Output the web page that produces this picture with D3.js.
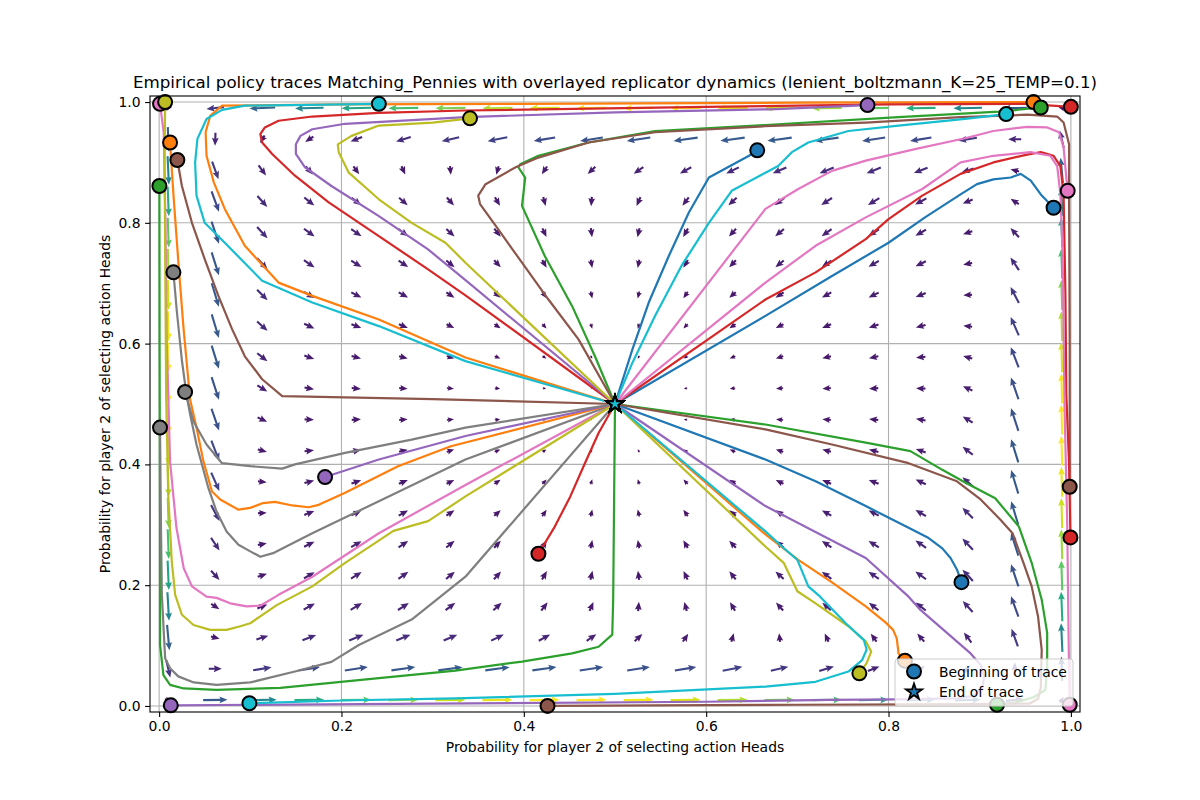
<!DOCTYPE html>
<html>
<head>
<meta charset="utf-8">
<title>Empirical policy traces</title>
<script src="https://d3js.org/d3.v7.min.js"></script>
<style>
  body { margin: 0; background: #fff; }
  text { font-family: "DejaVu Sans", sans-serif; }
</style>
</head>
<body>
<div id="chart"></div>
<script type="text/javascript">

// axis limits and ticks
const axisLimits = [-0.01, 1.01];
const tickValues = [0.0, 0.2, 0.4, 0.6, 0.8, 1.0];

// game / dynamics parameters (from the title)
const leniency = 25;
const temperature = 0.1;
// grid on which the dynamics arrows are drawn
const fieldGrid = [0.01, 0.0616, 0.1132, 0.1647, 0.2163, 0.2679, 0.3195, 0.3711, 0.4226, 0.4742,
                   0.5258, 0.5774, 0.6289, 0.6805, 0.7321, 0.7837, 0.8353, 0.8868, 0.9384, 0.99];

// empirical traces, [x, y] points, start -> end
const blue1 = [[0.656,0.920],[0.647,0.911],[0.603,0.875],[0.581,0.817],[0.559,0.745],[0.537,0.668],[0.519,0.590],[0.5,0.5]];
const orange1 = [[0.959,1.0],[0.7,0.999],[0.4,0.997],[0.2,0.996],[0.069,0.994],[0.056,0.977],[0.051,0.950],[0.052,0.911],[0.060,0.867],[0.072,0.823],[0.094,0.762],[0.131,0.701],[0.168,0.679],[0.241,0.640],[0.336,0.577],[0.5,0.5]];
const green1 = [[0.967,0.991],[0.921,0.984],[0.811,0.975],[0.665,0.962],[0.544,0.952],[0.471,0.933],[0.416,0.911],[0.396,0.897],[0.394,0.892],[0.4015,0.875],[0.398,0.828],[0.423,0.745],[0.453,0.662],[0.478,0.579],[0.5,0.5]];
const red1 = [[1.0,0.992],[0.95,0.997],[0.8,0.996],[0.6,0.992],[0.336,0.986],[0.241,0.982],[0.168,0.976],[0.131,0.969],[0.116,0.958],[0.111,0.947],[0.113,0.933],[0.124,0.914],[0.149,0.878],[0.186,0.834],[0.241,0.778],[0.295,0.723],[0.336,0.680],[0.5,0.5]];
const purple1 = [[0.777,0.995],[0.67,0.988],[0.5,0.983],[0.336,0.975],[0.204,0.964],[0.168,0.955],[0.155,0.944],[0.150,0.930],[0.150,0.914],[0.160,0.892],[0.189,0.861],[0.241,0.811],[0.295,0.756],[0.336,0.705],[0.5,0.5]];
const brown1 = [[0.020,0.904],[0.025,0.861],[0.036,0.800],[0.050,0.740],[0.065,0.679],[0.080,0.624],[0.094,0.579],[0.113,0.541],[0.135,0.513],[0.3,0.508],[0.5,0.5]];
const pink1 = [[0.001,0.997],[0.005,0.95],[0.007,0.8],[0.0084,0.6],[0.010,0.516],[0.012,0.405],[0.019,0.295],[0.027,0.228],[0.036,0.198],[0.052,0.181],[0.063,0.179],[0.078,0.170],[0.096,0.165],[0.111,0.166],[0.131,0.184],[0.168,0.214],[0.241,0.286],[0.336,0.366],[0.5,0.5]];
const gray1 = [[0.0157,0.718],[0.0194,0.654],[0.025,0.572],[0.030,0.516],[0.034,0.483],[0.041,0.433],[0.054,0.361],[0.063,0.322],[0.074,0.289],[0.087,0.267],[0.100,0.256],[0.111,0.247],[0.125,0.253],[0.133,0.259],[0.168,0.286],[0.241,0.339],[0.336,0.408],[0.5,0.5]];
const olive1 = [[0.0066,1.0],[0.006,0.9],[0.0077,0.516],[0.010,0.350],[0.0139,0.239],[0.0176,0.184],[0.025,0.151],[0.0377,0.134],[0.056,0.126],[0.074,0.126],[0.089,0.132],[0.100,0.137],[0.129,0.167],[0.168,0.198],[0.204,0.237],[0.257,0.290],[0.295,0.306],[0.336,0.347],[0.5,0.5]];
const cyan1 = [[0.241,0.997],[0.094,0.994],[0.069,0.987],[0.052,0.972],[0.042,0.939],[0.0395,0.900],[0.041,0.845],[0.050,0.800],[0.072,0.767],[0.113,0.704],[0.168,0.668],[0.241,0.629],[0.336,0.571],[0.5,0.5]];

const blue2 = [[0.981,0.825],[0.967,0.847],[0.956,0.870],[0.945,0.881],[0.934,0.875],[0.915,0.872],[0.897,0.864],[0.879,0.847],[0.840,0.809],[0.800,0.767],[0.738,0.712],[0.665,0.646],[0.5,0.5]];
const orange2 = [[0.012,0.933],[0.0157,0.847],[0.021,0.737],[0.0267,0.627],[0.034,0.507],[0.041,0.461],[0.0486,0.405],[0.058,0.355],[0.067,0.342],[0.087,0.325],[0.100,0.328],[0.114,0.336],[0.127,0.338],[0.146,0.332],[0.164,0.329],[0.175,0.333],[0.204,0.353],[0.262,0.397],[0.320,0.430],[0.5,0.5]];
const green2 = [[0.0003,0.861],[0.0005,0.6],[0.001,0.3],[0.001,0.101],[0.0047,0.051],[0.012,0.035],[0.027,0.029],[0.063,0.0265],[0.133,0.030],[0.241,0.046],[0.325,0.0586],[0.398,0.0735],[0.453,0.087],[0.482,0.098],[0.497,0.118],[0.498,0.176],[0.5,0.5]];
const red2 = [[0.416,0.252],[0.434,0.297],[0.451,0.347],[0.467,0.402],[0.482,0.452],[0.5,0.5]];
const purple2 = [[0.182,0.379],[0.241,0.408],[0.336,0.447],[0.5,0.5]];
const brown2 = [[0.9987,0.363],[0.9987,0.6],[0.998,0.85],[0.998,0.930],[0.992,0.966],[0.985,0.976],[0.952,0.979],[0.879,0.975],[0.775,0.966],[0.665,0.960],[0.544,0.950],[0.471,0.933],[0.416,0.908],[0.391,0.892],[0.358,0.864],[0.350,0.845],[0.352,0.831],[0.372,0.789],[0.398,0.734],[0.427,0.673],[0.460,0.607],[0.5,0.5]];
const pink2 = [[0.9965,0.853],[0.995,0.875],[0.992,0.925],[0.987,0.950],[0.974,0.958],[0.952,0.959],[0.915,0.952],[0.884,0.940],[0.829,0.922],[0.775,0.903],[0.738,0.886],[0.701,0.856],[0.665,0.823],[0.5,0.5]];
const gray2 = [[0.0285,0.520],[0.0377,0.471],[0.052,0.433],[0.069,0.402],[0.100,0.397],[0.135,0.393],[0.149,0.400],[0.204,0.419],[0.277,0.441],[0.336,0.461],[0.5,0.5]];
const olive2 = [[0.341,0.973],[0.3,0.966],[0.241,0.961],[0.211,0.944],[0.196,0.930],[0.197,0.917],[0.208,0.883],[0.241,0.839],[0.277,0.800],[0.314,0.767],[0.336,0.734],[0.5,0.5]];
const cyan2 = [[0.929,0.980],[0.884,0.972],[0.811,0.961],[0.756,0.952],[0.712,0.933],[0.694,0.917],[0.679,0.894],[0.665,0.883],[0.628,0.853],[0.603,0.800],[0.573,0.729],[0.544,0.646],[0.519,0.568],[0.5,0.5]];

const blue3 = [[0.880,0.205],[0.875,0.226],[0.868,0.245],[0.859,0.261],[0.844,0.278],[0.822,0.295],[0.775,0.331],[0.720,0.372],[0.665,0.408],[0.5,0.5]];
const orange3 = [[0.818,0.075],[0.811,0.087],[0.809,0.112],[0.805,0.126],[0.797,0.138],[0.775,0.165],[0.738,0.2045],[0.701,0.242],[0.665,0.284],[0.5,0.5]];
const green3 = [[0.919,0.002],[0.940,0.006],[0.959,0.0144],[0.972,0.0265],[0.974,0.065],[0.974,0.121],[0.968,0.176],[0.957,0.237],[0.943,0.297],[0.917,0.344],[0.884,0.370],[0.859,0.391],[0.824,0.422],[0.775,0.436],[0.665,0.466],[0.5,0.5]];
const red3 = [[0.9995,0.279],[0.998,0.4],[0.995,0.516],[0.994,0.682],[0.992,0.847],[0.9885,0.894],[0.981,0.911],[0.967,0.917],[0.952,0.913],[0.915,0.900],[0.879,0.881],[0.837,0.845],[0.800,0.806],[0.775,0.773],[0.720,0.718],[0.665,0.673],[0.5,0.5]];
const purple3 = [[0.0128,0.001],[0.3,0.004],[0.6,0.007],[0.736,0.010],[0.809,0.011],[0.875,0.0127],[0.893,0.0166],[0.9026,0.029],[0.905,0.0486],[0.901,0.068],[0.890,0.087],[0.835,0.159],[0.822,0.181],[0.775,0.245],[0.665,0.331],[0.5,0.5]];
const brown3 = [[0.426,0.0],[0.7,0.002],[0.9,0.003],[0.955,0.004],[0.964,0.012],[0.967,0.03],[0.968,0.093],[0.964,0.148],[0.957,0.198],[0.948,0.237],[0.936,0.286],[0.923,0.308],[0.901,0.342],[0.875,0.372],[0.822,0.402],[0.738,0.433],[0.665,0.458],[0.5,0.5]];
const pink3 = [[0.9987,0.002],[0.9976,0.1],[0.996,0.3],[0.993,0.5],[0.991,0.75],[0.9885,0.847],[0.985,0.894],[0.9775,0.911],[0.9556,0.917],[0.915,0.911],[0.879,0.900],[0.837,0.856],[0.775,0.809],[0.720,0.762],[0.665,0.701],[0.5,0.5]];
const gray3 = [[0.001,0.461],[0.002,0.3],[0.003,0.184],[0.0066,0.079],[0.012,0.0625],[0.021,0.049],[0.038,0.039],[0.063,0.035],[0.100,0.039],[0.149,0.057],[0.189,0.073],[0.219,0.101],[0.277,0.143],[0.336,0.214],[0.5,0.5]];
const olive3 = [[0.768,0.054],[0.776,0.071],[0.781,0.090],[0.775,0.107],[0.756,0.132],[0.720,0.170],[0.700,0.190],[0.685,0.237],[0.665,0.264],[0.5,0.5]];
const cyan3 = [[0.099,0.0045],[0.2,0.009],[0.325,0.0127],[0.500,0.020],[0.665,0.032],[0.720,0.040],[0.756,0.057],[0.771,0.076],[0.776,0.093],[0.773,0.109],[0.753,0.137],[0.725,0.181],[0.712,0.198],[0.700,0.242],[0.683,0.264],[0.665,0.289],[0.5,0.5]];

// plotting order (colours follow the tab10 cycle)
const traces = [blue1, orange1, green1, red1, purple1, brown1, pink1, gray1, olive1, cyan1,
                blue2, orange2, green2, red2, purple2, brown2, pink2, gray2, olive2, cyan2,
                blue3, orange3, green3, red3, purple3, brown3, pink3, gray3, olive3, cyan3];
const palette = d3.schemeCategory10;

const titleText = "Empirical policy traces Matching_Pennies with overlayed replicator dynamics (lenient_boltzmann_K=25_TEMP=0.1)";
const xLabel = "Probability for player 2 of selecting action Heads";
const yLabel = "Probability for player 2 of selecting action Heads";
const legendLabels = ["Beginning of trace", "End of trace"];

// lenient boltzmann dynamics for matching pennies (payoffs +1 / -1)
function dynamics(x, y) {
    let gapX = 2 * (Math.pow(1 - y, leniency) - Math.pow(y, leniency));
    let gapY = 2 * (Math.pow(x, leniency) - Math.pow(1 - x, leniency));
    let u = x * (1 - x) * (gapX / temperature + Math.log2((1 - x) / x));
    let v = y * (1 - y) * (gapY / temperature + Math.log2((1 - y) / y));
    return [u, v];
}

// arrow glyph pointing along +x, centred on the origin
function arrowPath(L) {
    let sw = 1.05, hw = 3.4, hl = 8, ha = 7;
    let s = 1, len = L;
    if (L < hl + 1) { s = L / (hl + 1); len = hl + 1; }
    let t = len / 2, b = -len / 2;
    let pts = [[b,-sw],[t-ha,-sw],[t-hl,-hw],[t,0],[t-hl,hw],[t-ha,sw],[b,sw]];
    return "M" + pts.map(p => (p[0]*s).toFixed(2) + "," + (p[1]*s).toFixed(2)).join("L") + "Z";
}

function render() {
    let margin = {top: 96, right: 120, bottom: 88, left: 150};
    let w = 1200 - margin.left - margin.right;
    let h = 800 - margin.top - margin.bottom;

    let svg = d3.select("#chart")
        .append("svg")
            .attr("width", 1200)
            .attr("height", 800)
            .style("background", "#fff");

    let g = svg.append("g")
        .attr("transform", "translate(" + margin.left + "," + margin.top + ")");

    let xScale = d3.scaleLinear().domain(axisLimits).range([0, w]);
    let yScale = d3.scaleLinear().domain(axisLimits).range([h, 0]);

    g.append("clipPath").attr("id", "plotclip")
        .append("rect").attr("width", w).attr("height", h);

    // grid
    g.append("g").selectAll("line").data(tickValues).enter().append("line")
        .attr("x1", d => xScale(d)).attr("x2", d => xScale(d))
        .attr("y1", 0).attr("y2", h)
        .attr("stroke", "#b0b0b0").attr("stroke-width", 1.1);
    g.append("g").selectAll("line").data(tickValues).enter().append("line")
        .attr("y1", d => yScale(d)).attr("y2", d => yScale(d))
        .attr("x1", 0).attr("x2", w)
        .attr("stroke", "#b0b0b0").attr("stroke-width", 1.1);

    // vector field
    let arrows = [];
    fieldGrid.forEach(gy => fieldGrid.forEach(gx => {
        let uv = dynamics(gx, gy);
        arrows.push({x: gx, y: gy, u: uv[0], v: uv[1], m: Math.hypot(uv[0], uv[1])});
    }));
    let color = d3.scaleSequential(d3.interpolateViridis)
        .domain(d3.extent(arrows, d => d.m));
    let kx = xScale(1) - xScale(0), ky = yScale(0) - yScale(1);

    g.append("g").attr("clip-path", "url(#plotclip)")
        .selectAll("path").data(arrows).enter().append("path")
        .attr("d", d => arrowPath(30 * Math.tanh(d.m / 1.0)))
        .attr("transform", d => "translate(" + xScale(d.x) + "," + yScale(d.y) + ") rotate(" +
            (Math.atan2(-d.v * ky, d.u * kx) * 180 / Math.PI) + ")")
        .attr("fill", d => color(d.m));

    // traces
    let line = d3.line().x(d => xScale(d[0])).y(d => yScale(d[1]));
    g.append("g").attr("clip-path", "url(#plotclip)")
        .selectAll("path").data(traces).enter().append("path")
        .attr("d", line)
        .attr("fill", "none")
        .attr("stroke", (d, i) => palette[i % 10])
        .attr("stroke-width", 2.2)
        .attr("stroke-linejoin", "round");

    // start markers
    g.append("g").selectAll("circle").data(traces).enter().append("circle")
        .attr("cx", d => xScale(d[0][0]))
        .attr("cy", d => yScale(d[0][1]))
        .attr("r", 7)
        .attr("fill", (d, i) => palette[i % 10])
        .attr("stroke", "#000").attr("stroke-width", 2);

    // end markers
    let star = d3.symbol().type(d3.symbolStar).size(80);
    g.append("g").selectAll("path").data(traces).enter().append("path")
        .attr("d", star)
        .attr("transform", d => "translate(" + xScale(d[d.length-1][0]) + "," + yScale(d[d.length-1][1]) + ")")
        .attr("fill", (d, i) => palette[i % 10])
        .attr("stroke", "#000").attr("stroke-width", 1.8)
        .attr("stroke-linejoin", "miter");

    // axes
    let xAxis = d3.axisBottom(xScale).tickValues(tickValues).tickFormat(d3.format(".1f"))
        .tickSize(4.9).tickPadding(4.5);
    let yAxis = d3.axisLeft(yScale).tickValues(tickValues).tickFormat(d3.format(".1f"))
        .tickSize(4.9).tickPadding(4.5);

    let gx = g.append("g").attr("transform", "translate(0," + h + ")").call(xAxis);
    let gy = g.append("g").call(yAxis);
    [gx, gy].forEach(a => {
        a.select(".domain").remove();
        a.selectAll("line").attr("stroke", "#000").attr("stroke-width", 1.1);
        a.selectAll("text").attr("font-family", "DejaVu Sans").attr("font-size", "13.9px").attr("fill", "#000");
    });

    // frame
    g.append("rect").attr("width", w).attr("height", h)
        .attr("fill", "none").attr("stroke", "#000").attr("stroke-width", 1.1);

    // labels
    svg.append("text")
        .attr("x", margin.left + w / 2).attr("y", 88)
        .attr("text-anchor", "middle").attr("font-size", "16.7px")
        .text(titleText);
    svg.append("text")
        .attr("x", margin.left + w / 2).attr("y", 752)
        .attr("text-anchor", "middle").attr("font-size", "13.9px")
        .text(xLabel);
    svg.append("text")
        .attr("transform", "translate(110," + (margin.top + h / 2) + ") rotate(-90)")
        .attr("text-anchor", "middle").attr("font-size", "13.9px")
        .text(yLabel);

    // legend
    let lg = g.append("g").attr("transform", "translate(" + (w - 185) + "," + (h - 53) + ")");
    lg.append("rect").attr("width", 178).attr("height", 47).attr("rx", 3)
        .attr("fill", "#fff").attr("fill-opacity", 0.8)
        .attr("stroke", "#cccccc").attr("stroke-width", 1);
    lg.append("circle").attr("cx", 19).attr("cy", 12.5).attr("r", 7)
        .attr("fill", palette[0]).attr("stroke", "#000").attr("stroke-width", 2);
    lg.append("path").attr("d", star)
        .attr("transform", "translate(19,33)")
        .attr("fill", palette[0]).attr("stroke", "#000").attr("stroke-width", 1.8);
    lg.selectAll("text.lab").data(legendLabels).enter().append("text")
        .attr("class", "lab")
        .attr("x", 44).attr("y", (d, i) => 17.5 + i * 20.5)
        .attr("font-size", "13.9px")
        .text(d => d);
}

render();
</script>
</body>
</html>
